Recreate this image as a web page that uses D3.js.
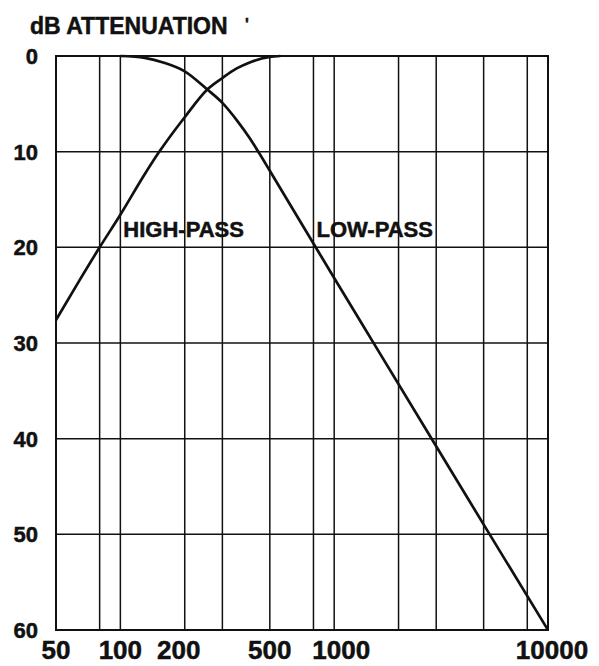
<!DOCTYPE html>
<html>
<head>
<meta charset="utf-8">
<script src="https://cdn.jsdelivr.net/npm/d3@7/dist/d3.min.js"></script>
<style>
  html, body { margin: 0; padding: 0; background: #fff; }
  svg { display: block; }
  text {
    font-family: "Liberation Sans", Arial, sans-serif;
    font-weight: bold;
    fill: #111;
    stroke: #111;
    stroke-width: 0.5px;
  }
</style>
</head>
<body>
<svg id="chart" width="599" height="666"></svg>
<script>
// frequency grid (Hz) and labelled ticks
const freqGrid = [80, 100, 200, 300, 500, 800, 1000, 2000, 3000, 5000, 8000];
const freqLabels = [50, 100, 200, 500, 1000, 10000];
const dbTicks = [0, 10, 20, 30, 40, 50, 60];

// curves: [frequency Hz, dB attenuation]
const highPass = [
    [50, 27.6], [65, 23.3], [80, 20.0], [100, 16.6], [128, 12.6], [150, 10.2],
    [175, 8.1], [200, 6.4], [255, 3.5], [300, 2.3], [350, 1.3], [400, 0.7],
    [500, 0.1], [560, 0]
];
const lowPass = [
    [100, 0], [130, 0.2], [160, 0.7], [200, 1.6], [255, 3.5], [300, 4.9],
    [350, 6.7], [400, 8.5], [450, 10.3], [500, 12.0], [640, 16.0], [800, 19.6],
    [1000, 23.2], [1500, 29.7], [3000, 40.8], [5300, 49.9], [10000, 60]
];
const curveLabels = [
    { text: "HIGH-PASS", f: 100, db: 20 },
    { text: "LOW-PASS", f: 800, db: 20 }
];

const svg = d3.select("#chart");
const plot = { left: 56, right: 548, top: 56, bottom: 630 };

const x = d3.scaleLog().domain([50, 10000]).range([plot.left, plot.right]);
const y = d3.scaleLinear().domain([0, 60]).range([plot.top, plot.bottom]);

const ink = "#111";

// vertical grid
svg.append("g").selectAll("line")
    .data(freqGrid)
    .enter().append("line")
    .attr("x1", d => x(d)).attr("x2", d => x(d))
    .attr("y1", plot.top).attr("y2", plot.bottom)
    .attr("stroke", ink).attr("stroke-width", 1.5);

// horizontal grid
svg.append("g").selectAll("line")
    .data(dbTicks.slice(1, -1))
    .enter().append("line")
    .attr("x1", plot.left).attr("x2", plot.right)
    .attr("y1", d => y(d)).attr("y2", d => y(d))
    .attr("stroke", ink).attr("stroke-width", 1.5);

// curve labels, with a white patch that breaks the grid lines
const labelG = svg.append("g");
curveLabels.forEach(l => {
    const t = labelG.append("text")
        .attr("x", x(l.f) + 3)
        .attr("y", y(l.db) - 10)
        .style("font-size", "22px")
        .text(l.text);
    const bb = t.node().getBBox();
    labelG.insert("rect", "text")
        .attr("x", bb.x - 1).attr("y", y(l.db) - 34)
        .attr("width", bb.width + 3).attr("height", 33)
        .attr("fill", "#fff");
});

// frame
svg.append("rect")
    .attr("x", plot.left).attr("y", plot.top)
    .attr("width", plot.right - plot.left).attr("height", plot.bottom - plot.top)
    .attr("fill", "none").attr("stroke", ink).attr("stroke-width", 2);

// curves
const line = d3.line()
    .x(d => x(d[0]))
    .y(d => y(d[1]))
    .curve(d3.curveMonotoneX);

[highPass, lowPass].forEach(series => {
    svg.append("path")
        .datum(series)
        .attr("d", line)
        .attr("fill", "none")
        .attr("stroke", ink)
        .attr("stroke-width", 2.7);
});

// text sits above the curves, white patches stay below them
labelG.selectAll("rect").lower();
labelG.lower();
svg.selectAll("path").raise();
labelG.selectAll("text").each(function() { svg.node().appendChild(this); });

// y tick labels
svg.append("g").selectAll("text")
    .data(dbTicks)
    .enter().append("text")
    .attr("x", 38)
    .attr("y", d => y(d))
    .attr("dy", "0.36em")
    .attr("text-anchor", "end")
    .style("font-size", "22px")
    .text(d => d);

// x tick labels (the print sets a few slightly off their lines)
const labelShift = { 200: -6, 1000: 7, 10000: 4 };
svg.append("g").selectAll("text")
    .data(freqLabels)
    .enter().append("text")
    .attr("x", d => x(d) + (labelShift[d] || 0))
    .attr("y", 659)
    .attr("text-anchor", "middle")
    .style("font-size", "26px")
    .text(d => d);

// axis title
svg.append("text")
    .attr("x", 30).attr("y", 34)
    .style("font-size", "23px")
    .text("dB ATTENUATION");
svg.append("text")
    .attr("x", 245).attr("y", 30)
    .style("font-size", "16px")
    .text("'");
</script>
</body>
</html>
